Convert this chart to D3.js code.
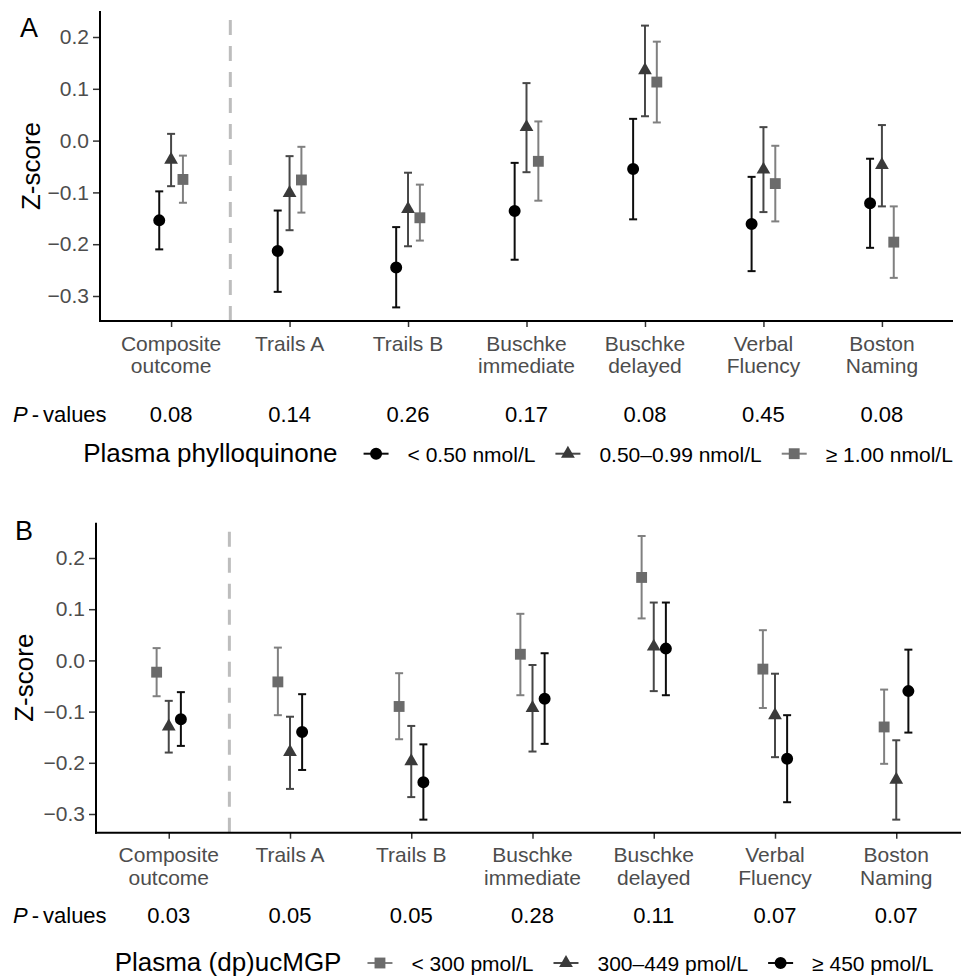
<!DOCTYPE html>
<html>
<head>
<meta charset="utf-8">
<script src="https://cdn.jsdelivr.net/npm/d3@7"></script>
<style>
  body { margin: 0; background: #fff; }
  svg { display: block; font-family: "Liberation Sans", Arial, sans-serif; }
</style>
</head>
<body>
<svg id="chart" width="961" height="978"></svg>
<script>
/* data */
const categories = ["Composite outcome", "Trails A", "Trails B", "Buschke immediate",
                    "Buschke delayed", "Verbal Fluency", "Boston Naming"];
const categoryLines = [["Composite", "outcome"], ["Trails A"], ["Trails B"], ["Buschke", "immediate"],
                       ["Buschke", "delayed"], ["Verbal", "Fluency"], ["Boston", "Naming"]];
const yTicks = [-0.3, -0.2, -0.1, 0.0, 0.1, 0.2];

// Panel A: plasma phylloquinone
const phylloGroups = ["< 0.50 nmol/L", "0.50\u20130.99 nmol/L", "\u2265 1.00 nmol/L"];
const phylloLowEst  = [-0.154, -0.213, -0.245, -0.136, -0.055, -0.161, -0.121];
const phylloLowLo   = [-0.210, -0.292, -0.322, -0.230, -0.152, -0.252, -0.207];
const phylloLowHi   = [-0.098, -0.135, -0.167, -0.043,  0.042, -0.070, -0.035];
const phylloMidEst  = [-0.037, -0.101, -0.132,  0.026,  0.136, -0.056, -0.047];
const phylloMidLo   = [-0.088, -0.173, -0.204, -0.061,  0.047, -0.138, -0.127];
const phylloMidHi   = [ 0.013, -0.030, -0.062,  0.111,  0.222,  0.026,  0.030];
const phylloHighEst = [-0.075, -0.076, -0.149, -0.040,  0.113, -0.083, -0.196];
const phylloHighLo  = [-0.120, -0.139, -0.193, -0.116,  0.035, -0.156, -0.265];
const phylloHighHi  = [-0.029, -0.012, -0.085,  0.037,  0.191, -0.010, -0.127];
const phylloP = ["0.08", "0.14", "0.26", "0.17", "0.08", "0.45", "0.08"];

// Panel B: plasma (dp)ucMGP
const mgpGroups = ["< 300 pmol/L", "300\u2013449 pmol/L", "\u2265 450 pmol/L"];
const mgpLowEst  = [-0.023, -0.042, -0.090,  0.012,  0.162, -0.017, -0.130];
const mgpLowLo   = [-0.070, -0.107, -0.154, -0.068,  0.082, -0.093, -0.202];
const mgpLowHi   = [ 0.024,  0.025, -0.025,  0.091,  0.243,  0.059, -0.057];
const mgpMidEst  = [-0.129, -0.179, -0.197, -0.093,  0.027, -0.107, -0.233];
const mgpMidLo   = [-0.180, -0.251, -0.267, -0.178, -0.060, -0.189, -0.311];
const mgpMidHi   = [-0.079, -0.110, -0.128, -0.009,  0.113, -0.026, -0.156];
const mgpHighEst = [-0.115, -0.140, -0.238, -0.075,  0.023, -0.192, -0.060];
const mgpHighLo  = [-0.167, -0.214, -0.311, -0.163, -0.068, -0.277, -0.141];
const mgpHighHi  = [-0.062, -0.066, -0.164,  0.014,  0.113, -0.107,  0.021];
const mgpP = ["0.03", "0.05", "0.05", "0.28", "0.11", "0.07", "0.07"];

/* marker styles */
const shapes = {
  circle:   { sym: d3.symbolCircle,   size: 113, fill: "#000000", line: "#0d0d0d" },
  triangle: { sym: d3.symbolTriangle, size: 82,  fill: "#3a3a3a", line: "#474747" },
  square:   { sym: d3.symbolSquare,   size: 118, fill: "#6b6b6b", line: "#808080" }
};

const svg = d3.select("#chart");

const panels = [
  {
    label: "A", labelX: 20, labelY: 37,
    left: 100, right: 953, top: 11, bottom: 321,
    y0: 296, y1: 37, ylabX: 40,
    pY: 421.7, legendY: 461.7, legendCx: 518,
    legendTitle: "Plasma phylloquinone",
    pvals: phylloP,
    series: [
      { name: phylloGroups[0], shape: "circle",   est: phylloLowEst,  lo: phylloLowLo,  hi: phylloLowHi,  dodge: -1 },
      { name: phylloGroups[1], shape: "triangle", est: phylloMidEst,  lo: phylloMidLo,  hi: phylloMidHi,  dodge: 0 },
      { name: phylloGroups[2], shape: "square",   est: phylloHighEst, lo: phylloHighLo, hi: phylloHighHi, dodge: 1 }
    ]
  },
  {
    label: "B", labelX: 15, labelY: 540,
    left: 96, right: 969, top: 522.7, bottom: 832.7,
    y0: 814, y1: 558, ylabX: 33,
    pY: 922.7, legendY: 971, legendCx: 524,
    legendTitle: "Plasma (dp)ucMGP",
    pvals: mgpP,
    series: [
      { name: mgpGroups[0], shape: "square",   est: mgpLowEst,  lo: mgpLowLo,  hi: mgpLowHi,  dodge: -1 },
      { name: mgpGroups[1], shape: "triangle", est: mgpMidEst,  lo: mgpMidLo,  hi: mgpMidHi,  dodge: 0 },
      { name: mgpGroups[2], shape: "circle",   est: mgpHighEst, lo: mgpHighLo, hi: mgpHighHi, dodge: 1 }
    ]
  }
];

panels.forEach(p => {
  const g = svg.append("g");

  const x = d3.scalePoint()
    .domain(categories)
    .range([p.left, p.right])
    .padding(0.6);
  const dodge = x.step() * 0.1;

  const y = d3.scaleLinear()
    .domain([-0.3, 0.2])
    .range([p.y0, p.y1]);

  // dashed separator after the composite outcome
  const sepX = (x(categories[0]) + x(categories[1])) / 2;
  g.append("line")
    .attr("x1", sepX).attr("x2", sepX)
    .attr("y1", p.bottom).attr("y2", p.top)
    .attr("stroke", "#bdbdbd")
    .attr("stroke-width", 3)
    .attr("stroke-dasharray", "15,11");

  // Y axis
  const yAxis = g.append("g")
    .attr("transform", `translate(${p.left},0)`)
    .call(d3.axisLeft(y).tickValues(yTicks).tickFormat(d3.format(".1f")).tickSize(7).tickPadding(4));
  yAxis.select(".domain").remove();
  yAxis.selectAll(".tick line").attr("stroke", "#333").attr("stroke-width", 1.5);
  yAxis.selectAll(".tick text")
    .attr("fill", "#4d4d4d")
    .style("font-size", "21px")
    .style("font-family", "Liberation Sans, Arial, sans-serif");

  // X axis
  const xAxis = g.append("g")
    .attr("transform", `translate(0,${p.bottom})`)
    .call(d3.axisBottom(x).tickSize(6).tickFormat(""));
  xAxis.select(".domain").remove();
  xAxis.selectAll(".tick line").attr("stroke", "#333").attr("stroke-width", 1.5);

  // axis lines
  g.append("line")
    .attr("x1", p.left).attr("x2", p.left)
    .attr("y1", p.top).attr("y2", p.bottom + 1)
    .attr("stroke", "#000").attr("stroke-width", 2);
  g.append("line")
    .attr("x1", p.left - 1).attr("x2", p.right)
    .attr("y1", p.bottom).attr("y2", p.bottom)
    .attr("stroke", "#000").attr("stroke-width", 2);

  // category labels (two lines, top aligned)
  categories.forEach((c, i) => {
    const t = g.append("text")
      .attr("x", x(c))
      .attr("y", p.bottom + 29.7)
      .attr("text-anchor", "middle")
      .attr("fill", "#4d4d4d")
      .style("font-size", "21px");
    categoryLines[i].forEach((ln, j) => {
      t.append("tspan")
        .attr("x", x(c))
        .attr("dy", j === 0 ? 0 : 22.6)
        .text(ln);
    });
  });

  // y axis title
  g.append("text")
    .attr("transform", `translate(${p.ylabX},${(p.top + p.bottom) / 2}) rotate(-90)`)
    .attr("text-anchor", "middle")
    .attr("fill", "#000")
    .style("font-size", "26px")
    .text("Z-score");

  // panel letter
  g.append("text")
    .attr("x", p.labelX).attr("y", p.labelY)
    .attr("fill", "#000")
    .style("font-size", "27px")
    .text(p.label);

  // error bars + points
  p.series.forEach(s => {
    const st = shapes[s.shape];
    const sg = g.append("g");
    const rows = categories.map((c, i) => ({ c, est: s.est[i], lo: s.lo[i], hi: s.hi[i] }));
    const cx = d => x(d.c) + s.dodge * dodge;

    sg.selectAll("line.bar")
      .data(rows)
      .join("line")
      .attr("class", "bar")
      .attr("x1", cx).attr("x2", cx)
      .attr("y1", d => y(d.lo)).attr("y2", d => y(d.hi))
      .attr("stroke", st.line).attr("stroke-width", 2);

    ["lo", "hi"].forEach(k => {
      sg.selectAll("line.cap" + k)
        .data(rows)
        .join("line")
        .attr("class", "cap" + k)
        .attr("x1", d => cx(d) - 4).attr("x2", d => cx(d) + 4)
        .attr("y1", d => y(d[k])).attr("y2", d => y(d[k]))
        .attr("stroke", st.line).attr("stroke-width", 2);
    });

    sg.selectAll("path.pt")
      .data(rows)
      .join("path")
      .attr("class", "pt")
      .attr("transform", d => `translate(${cx(d)},${y(d.est)})`)
      .attr("d", d3.symbol(st.sym, st.size))
      .attr("fill", st.fill);
  });

  // P-values row
  const pt = g.append("text")
    .attr("x", 13).attr("y", p.pY)
    .attr("fill", "#000")
    .style("font-size", "22px");
  pt.append("tspan").style("font-style", "italic").text("P");
  pt.append("tspan").attr("dx", 4).text("-");
  pt.append("tspan").attr("dx", 4).text("values");

  g.selectAll("text.pval")
    .data(p.pvals)
    .join("text")
    .attr("class", "pval")
    .attr("x", (d, i) => x(categories[i]))
    .attr("y", p.pY)
    .attr("text-anchor", "middle")
    .attr("fill", "#000")
    .style("font-size", "22px")
    .text(d => d);

  // legend
  const lg = g.append("g");
  const title = lg.append("text")
    .attr("x", 0).attr("y", 0)
    .attr("fill", "#000")
    .style("font-size", "26px")
    .text(p.legendTitle);
  let pos = title.node().getComputedTextLength() + 26;
  p.series.forEach(s => {
    const st = shapes[s.shape];
    lg.append("line")
      .attr("x1", pos).attr("x2", pos + 25)
      .attr("y1", -8).attr("y2", -8)
      .attr("stroke", st.line).attr("stroke-width", 2);
    lg.append("path")
      .attr("transform", `translate(${pos + 12.5},-8)`)
      .attr("d", d3.symbol(st.sym, st.size))
      .attr("fill", st.fill);
    pos += 25 + 19;
    const lt = lg.append("text")
      .attr("x", pos).attr("y", 0)
      .attr("fill", "#000")
      .style("font-size", "21px")
      .text(s.name);
    pos += lt.node().getComputedTextLength() + 20;
  });
  const total = pos - 20;
  lg.attr("transform", `translate(${p.legendCx - total / 2},${p.legendY})`);
});
</script>
</body>
</html>
